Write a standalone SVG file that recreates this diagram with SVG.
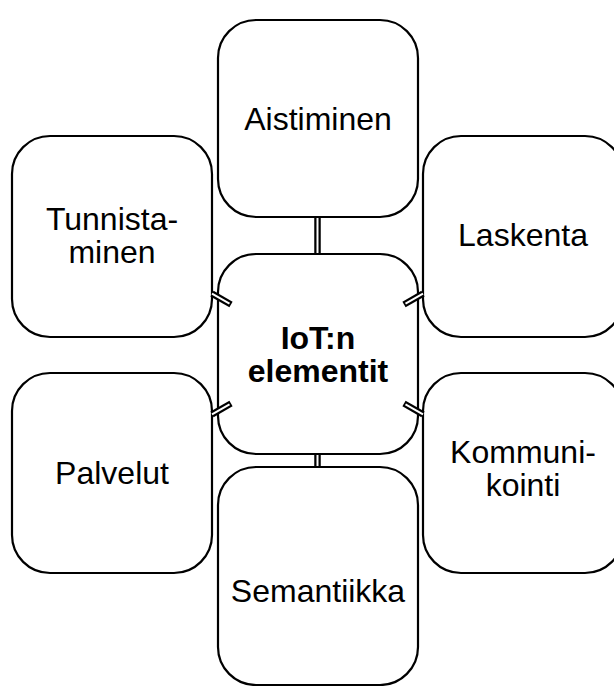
<svg xmlns="http://www.w3.org/2000/svg" width="614" height="686" viewBox="0 0 614 686">
<style>
.box{fill:#fff;stroke:#000;stroke-width:2.2}
.t{font-family:"Liberation Sans",Arial,sans-serif;font-size:32px;fill:#000;text-anchor:middle}
.b{font-weight:bold}
.lo{stroke:#000;stroke-width:6.5;fill:none}
.li{stroke:#fff;stroke-width:2;fill:none}
</style>
<rect width="614" height="686" fill="#fff"/>
<g id="aistiminen"><rect class="box" x="218" y="20" width="200" height="197" rx="38" ry="38"/><text class="t" x="318" y="130">Aistiminen</text></g>
<g id="tunnistaminen"><rect class="box" x="12" y="136" width="200" height="201" rx="38" ry="38"/><text class="t" x="112" y="230">Tunnista-</text><text class="t" x="112" y="263">minen</text></g>
<g id="laskenta"><rect class="box" x="423" y="136" width="200" height="201" rx="38" ry="38"/><text class="t" x="523" y="246">Laskenta</text></g>
<g id="palvelut"><rect class="box" x="12" y="373" width="200" height="200" rx="38" ry="38"/><text class="t" x="112" y="484">Palvelut</text></g>
<g id="kommunikointi"><rect class="box" x="423" y="373" width="200" height="200" rx="38" ry="38"/><text class="t" x="523" y="463">Kommuni-</text><text class="t" x="523" y="496">kointi</text></g>
<g id="semantiikka"><rect class="box" x="218" y="467" width="200" height="218" rx="38" ry="38"/><text class="t" x="318" y="602">Semantiikka</text></g>
<g id="iot"><rect class="box" x="218" y="254" width="200" height="200" rx="38" ry="38"/><text class="t b" x="318" y="349">IoT:n</text><text class="t b" x="318" y="382">elementit</text></g>
<g id="connectors">
<line class="lo" x1="317.5" y1="217" x2="317.5" y2="254"/><line class="li" x1="317.5" y1="218" x2="317.5" y2="253"/>
<line class="lo" x1="317.5" y1="454" x2="317.5" y2="467"/><line class="li" x1="317.5" y1="455" x2="317.5" y2="466"/>
<line class="lo" x1="212" y1="293.7" x2="231" y2="304.5"/><line class="li" x1="212" y1="293.7" x2="229.5" y2="303.6"/>
<line class="lo" x1="423" y1="293.7" x2="404" y2="304.5"/><line class="li" x1="423" y1="293.7" x2="405.5" y2="303.6"/>
<line class="lo" x1="212" y1="414.3" x2="231" y2="403.5"/><line class="li" x1="212" y1="414.3" x2="229.5" y2="404.4"/>
<line class="lo" x1="423" y1="414.3" x2="404" y2="403.5"/><line class="li" x1="423" y1="414.3" x2="405.5" y2="404.4"/>
</g>
</svg>
